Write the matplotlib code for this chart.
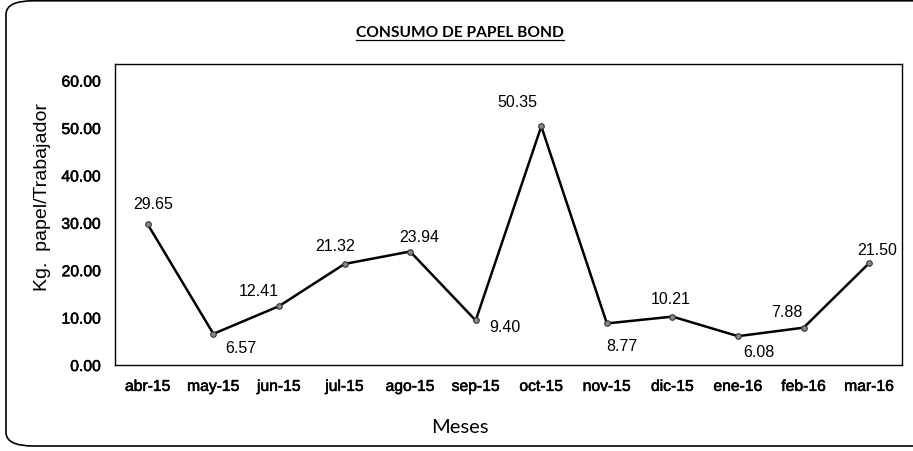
import matplotlib
matplotlib.use('Agg')
import matplotlib.pyplot as plt
import matplotlib.patheffects as pe
from matplotlib.patches import FancyBboxPatch
from matplotlib.lines import Line2D

meses = ['abr-15', 'may-15', 'jun-15', 'jul-15', 'ago-15', 'sep-15',
         'oct-15', 'nov-15', 'dic-15', 'ene-16', 'feb-16', 'mar-16']
consumo = [29.65, 6.57, 12.41, 21.32, 23.94, 9.40,
           50.35, 8.77, 10.21, 6.08, 7.88, 21.50]
y_ticks = [0, 10, 20, 30, 40, 50, 60]

# desplazamiento de cada etiqueta respecto a su punto (pixeles)
offsets = [(5, 21), (27, -14), (-20, 16), (-9, 18), (9, 15), (29, -6),
           (-24, 25), (15, -22), (-2, 18), (21, -15), (-17, 16), (8, 14)]

arial = ['Liberation Sans', 'DejaVu Sans']
calibri = ['Lato', 'DejaVu Sans']
plt.rcParams['font.family'] = arial

fig = plt.figure(figsize=(9.13, 4.52), dpi=100)

# marco redondeado del grafico
marco = FancyBboxPatch((6 / 913, 5 / 452), 1.05, 0.985,
                       boxstyle='round,pad=0,rounding_size=0.03',
                       transform=fig.transFigure, facecolor='none',
                       edgecolor='black', linewidth=1.2)
fig.patches.append(marco)

ax = fig.add_axes([115 / 913, 86 / 452, 787 / 913, 301 / 452])
x = list(range(len(meses)))
ax.plot(x, consumo, color='black', linewidth=1.8, marker='o', markersize=4,
        markerfacecolor='#888888', markeredgecolor='#333333', markeredgewidth=0.8)

for xi, val, (dx, dy) in zip(x, consumo, offsets):
    ax.annotate(f'{val:.2f}', (xi, val), xytext=(dx, dy), textcoords='offset pixels',
                ha='center', va='center', fontsize=11.5, family=arial)

ax.set_xlim(-0.5, len(meses) - 0.5)
ax.set_ylim(0, 63.5)
ax.set_xticks(x)
ax.set_xticklabels(meses, fontsize=11.3, family=arial)
ax.set_yticks(y_ticks)
ax.set_yticklabels([f'{v:.2f}' for v in y_ticks], fontsize=11.3, family=arial)
grueso = [pe.withStroke(linewidth=0.4, foreground='black')]
for t in ax.get_xticklabels() + ax.get_yticklabels():
    t.set_path_effects(grueso)
ax.tick_params(length=0, axis='y', pad=10)
ax.tick_params(length=0, axis='x', pad=10)
for s in ax.spines.values():
    s.set_color('black')
    s.set_linewidth(1.0)

ax.set_ylabel('Kg.  papel/Trabajador', fontsize=14, family=arial)
ax.yaxis.set_label_coords(-0.081, (366 - 197) / 301)

titulo = fig.text(460 / 913, 1 - 33 / 452, 'CONSUMO DE PAPEL BOND', ha='center', va='center',
                  fontsize=11.2, fontweight='bold', family=calibri)
fig.text(460 / 913, 1 - 428 / 452, 'Meses', ha='center', va='center',
         fontsize=14.5, family=calibri)

# subrayado del titulo
fig.canvas.draw()
bb = titulo.get_window_extent().transformed(fig.transFigure.inverted())
fig.add_artist(Line2D([bb.x0, bb.x1], [bb.y0 - 0.002, bb.y0 - 0.002],
                      transform=fig.transFigure, color='black', linewidth=0.9))

fig.savefig('out.png', dpi=100)
plt.close(fig)
